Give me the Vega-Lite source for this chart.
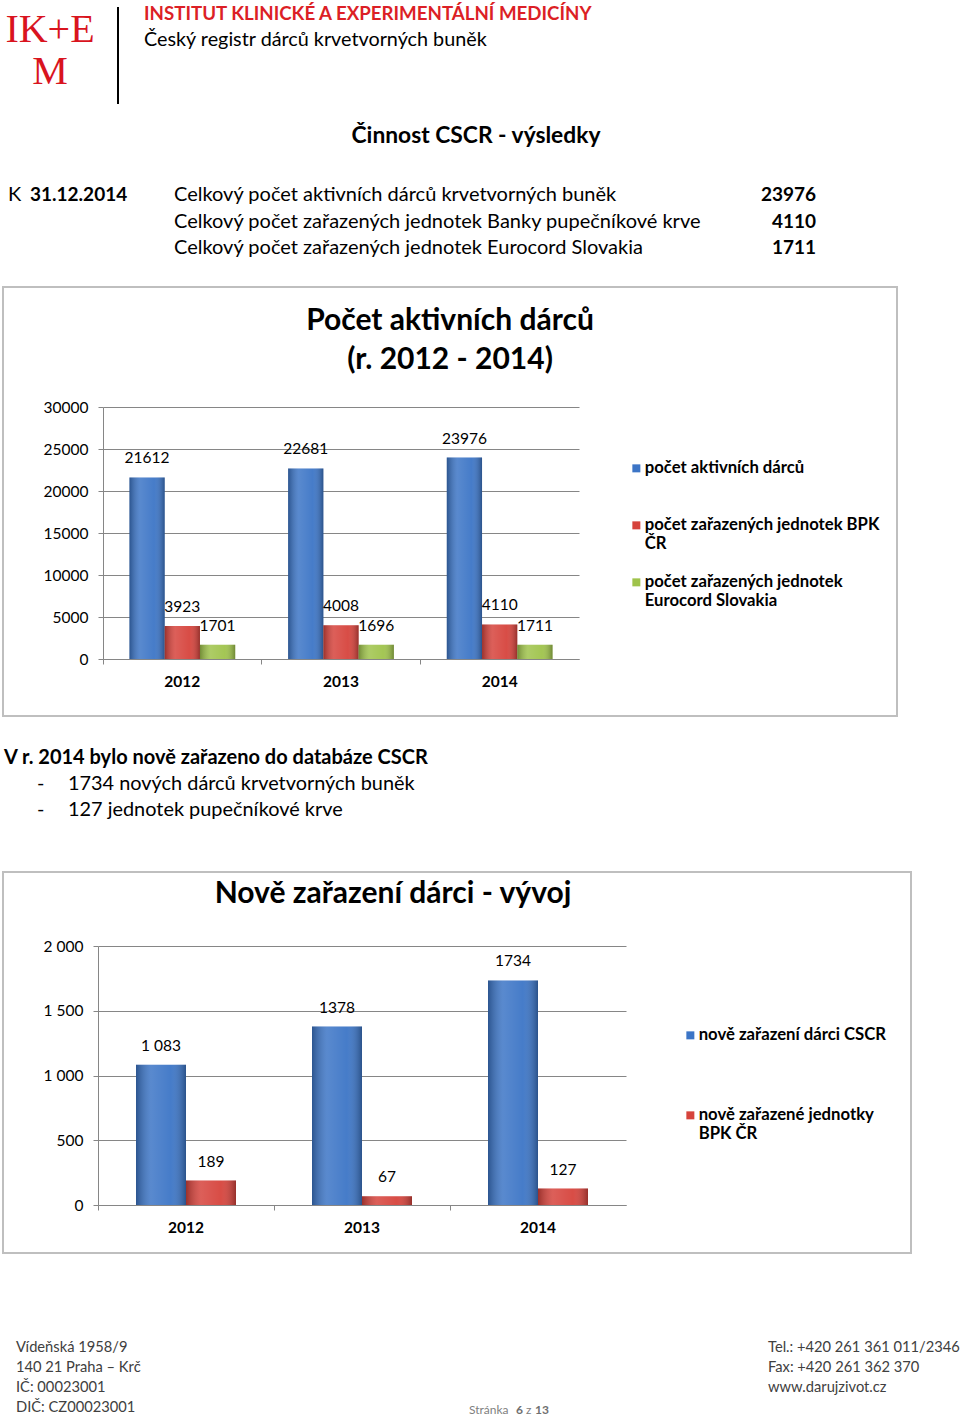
{
  "$schema": "https://vega.github.io/schema/vega-lite/v6.json",
  "background": "white",
  "padding": {"left": 2, "top": 5, "right": 0, "bottom": 0},
  "bounds": "flush",
  "spacing": 0,
  "resolve": {"scale": {"color": "independent", "xOffset": "independent"}, "legend": {"color": "independent"}},
  "config": {
    "view": {"stroke": null},
    "font": "Lato",
    "text": {"font": "Lato"},
    "axis": {"labelFont": "Lato", "titleFont": "Lato"},
    "legend": {"labelFont": "Lato"}
  },
  "vconcat": [
    {
      "width": 955,
      "height": 97,
      "resolve": {"scale": {"x": "independent", "y": "independent"}},
      "layer": [
        {
          "data": {"values": [{"pos": "logo", "line": 1, "text": ["IK+E", "M"]}]},
          "mark": {"type": "text", "font": "Liberation Serif", "fontSize": 40, "lineHeight": 42, "color": "#d9141e", "align": "center", "baseline": "alphabetic"},
          "encoding": {
            "x": {"field": "pos", "type": "nominal", "scale": {"type": "point", "range": [47, 47]}, "axis": null},
            "y": {"field": "line", "type": "ordinal", "scale": {"type": "point", "range": [35, 35]}, "axis": null},
            "text": {"field": "text"}
          }
        },
        {
          "data": {"values": [{"pos": "separator"}]},
          "mark": {"type": "rule", "color": "#000000", "strokeWidth": 2},
          "encoding": {
            "x": {"field": "pos", "type": "nominal", "scale": {"type": "point", "range": [115, 115]}, "axis": null}
          }
        },
        {
          "data": {"values": [{"pos": "header", "line": 1, "text": "INSTITUT KLINICKÉ A EXPERIMENTÁLNÍ MEDICÍNY"}]},
          "mark": {"type": "text", "fontSize": 18.7, "fontWeight": "bold", "color": "#dc1f26", "align": "left", "baseline": "middle"},
          "encoding": {
            "x": {"field": "pos", "type": "nominal", "scale": {"type": "point", "range": [141, 141]}, "axis": null},
            "y": {"field": "line", "type": "ordinal", "scale": {"type": "point", "range": [7, 7]}, "axis": null},
            "text": {"field": "text"}
          }
        },
        {
          "data": {"values": [{"pos": "header", "line": 2, "text": "Český registr dárců krvetvorných buněk"}]},
          "mark": {"type": "text", "fontSize": 19.8, "color": "#000000", "align": "left", "baseline": "middle"},
          "encoding": {
            "x": {"field": "pos", "type": "nominal", "scale": {"type": "point", "range": [141, 141]}, "axis": null},
            "y": {"field": "line", "type": "ordinal", "scale": {"type": "point", "range": [33, 33]}, "axis": null},
            "text": {"field": "text"}
          }
        }
      ]
    },
    {
      "width": 955,
      "height": 183,
      "resolve": {"scale": {"x": "independent", "y": "independent"}},
      "layer": [
        {
          "data": {"values": [{"pos": "title", "line": 1, "text": "Činnost  CSCR - výsledky"}]},
          "mark": {"type": "text", "fontSize": 22.8, "fontWeight": "bold", "color": "#000000", "align": "center", "baseline": "middle"},
          "encoding": {
            "x": {"field": "pos", "type": "nominal", "scale": {"type": "point", "range": [473, 473]}, "axis": null},
            "y": {"field": "line", "type": "ordinal", "scale": {"type": "point", "range": [32, 32]}, "axis": null},
            "text": {"field": "text"}
          }
        },
        {
          "data": {"values": [
            {"pos": "prefix", "line": 1, "text": "K"},
            {"pos": "label", "line": 1, "text": "Celkový počet aktivních dárců krvetvorných buněk"},
            {"pos": "label", "line": 2, "text": "Celkový počet zařazených jednotek Banky pupečníkové krve"},
            {"pos": "label", "line": 3, "text": "Celkový počet zařazených jednotek Eurocord Slovakia"}
          ]},
          "mark": {"type": "text", "fontSize": 20, "color": "#000000", "align": "left", "baseline": "middle"},
          "encoding": {
            "x": {"field": "pos", "type": "nominal", "scale": {"type": "point", "domain": ["prefix", "label"], "range": [5, 171], "padding": 0}, "axis": null},
            "y": {"field": "line", "type": "ordinal", "scale": {"type": "point", "domain": [1, 2, 3], "range": [91, 144], "padding": 0}, "axis": null},
            "text": {"field": "text"}
          }
        },
        {
          "data": {"values": [{"pos": "date", "line": 1, "text": "31.12.2014"}]},
          "mark": {"type": "text", "fontSize": 19, "fontWeight": "bold", "color": "#000000", "align": "left", "baseline": "middle"},
          "encoding": {
            "x": {"field": "pos", "type": "nominal", "scale": {"type": "point", "range": [27, 27]}, "axis": null},
            "y": {"field": "line", "type": "ordinal", "scale": {"type": "point", "range": [91, 91]}, "axis": null},
            "text": {"field": "text"}
          }
        },
        {
          "data": {"values": [
            {"pos": "value", "line": 1, "value": 23976},
            {"pos": "value", "line": 2, "value": 4110},
            {"pos": "value", "line": 3, "value": 1711}
          ]},
          "mark": {"type": "text", "fontSize": 19, "fontWeight": "bold", "color": "#000000", "align": "right", "baseline": "middle"},
          "encoding": {
            "x": {"field": "pos", "type": "nominal", "scale": {"type": "point", "range": [813, 813]}, "axis": null},
            "y": {"field": "line", "type": "ordinal", "scale": {"type": "point", "domain": [1, 2, 3], "range": [91, 144], "padding": 0}, "axis": null},
            "text": {"field": "value", "type": "quantitative", "format": "d"}
          }
        }
      ]
    },
    {
      "width": 894,
      "height": 429,
      "view": {"stroke": "#bfbfbf", "strokeWidth": 2},
      "title": {"text": ["Počet aktivních dárců", "(r. 2012 - 2014)"], "font": "Lato", "fontSize": 30, "fontWeight": "bold", "color": "#000000", "anchor": "middle", "frame": "group", "baseline": "top", "offset": -88, "lineHeight": 39},
      "data": {"values": [
        {"year": "2012", "series": "počet aktivních dárců", "value": 21612},
        {"year": "2012", "series": "počet zařazených jednotek BPK ČR", "value": 3923},
        {"year": "2012", "series": "počet zařazených jednotek Eurocord Slovakia", "value": 1701},
        {"year": "2013", "series": "počet aktivních dárců", "value": 22681},
        {"year": "2013", "series": "počet zařazených jednotek BPK ČR", "value": 4008},
        {"year": "2013", "series": "počet zařazených jednotek Eurocord Slovakia", "value": 1696},
        {"year": "2014", "series": "počet aktivních dárců", "value": 23976},
        {"year": "2014", "series": "počet zařazených jednotek BPK ČR", "value": 4110},
        {"year": "2014", "series": "počet zařazených jednotek Eurocord Slovakia", "value": 1711}
      ]},
      "encoding": {
        "y": {
          "field": "value", "type": "quantitative",
          "scale": {"domain": [0, 30000], "range": [372, 120], "nice": false, "zero": true},
          "axis": {"orient": "left", "offset": -100, "values": [0, 5000, 10000, 15000, 20000, 25000, 30000], "format": "d", "title": null, "domainColor": "#868686", "domainWidth": 1, "tickColor": "#868686", "tickSize": 5, "labelFontSize": 15.5, "labelColor": "#000000", "labelPadding": 10, "grid": true, "gridColor": "#868686", "gridWidth": 1}
        }
      },
      "resolve": {"axis": {"x": "independent"}},
      "layer": [
        {
          "mark": {"type": "bar"},
          "encoding": {
            "x": {"field": "year", "type": "nominal", "scale": {"range": [100, 576], "paddingInner": 0, "paddingOuter": 0},
              "axis": {"orient": "bottom", "offset": -57, "labelAngle": 0, "labelFontSize": 15.5, "labelFontWeight": "bold", "labelColor": "#000000", "labelPadding": 15, "ticks": false, "domainColor": "#868686", "title": null, "grid": false}},
            "xOffset": {"field": "series", "type": "nominal", "scale": {"domain": ["počet aktivních dárců", "počet zařazených jednotek BPK ČR", "počet zařazených jednotek Eurocord Slovakia"], "paddingInner": 0, "paddingOuter": 0.75}},
            "color": {
              "field": "series", "type": "nominal",
              "scale": {
                "domain": ["počet aktivních dárců", "počet zařazených jednotek BPK ČR", "počet zařazených jednotek Eurocord Slovakia"],
                "range": ["#3c75c6", "#d6433c", "#9fc34b"]
              },
              "legend": {
                "orient": "none", "legendX": 625, "legendY": 173, "title": null,
                "symbolType": "square", "symbolSize": 64, "symbolStrokeWidth": 0,
                "labelFontSize": 16.7, "labelFontWeight": "bold", "labelColor": "#000000", "labelLimit": 400, "labelOffset": 0,
                "rowPadding": 21,
                "labelExpr": "datum.label == 'počet aktivních dárců' ? ['počet aktivních dárců', ''] : datum.label == 'počet zařazených jednotek BPK ČR' ? ['počet zařazených jednotek BPK', 'ČR'] : ['počet zařazených jednotek', 'Eurocord Slovakia']"
              }
            }
          }
        },
        {
          "mark": {"type": "bar", "fill": {"gradient": "linear", "x1": 0, "y1": 0, "x2": 1, "y2": 0, "stops": [{"offset": 0, "color": "rgba(0,0,0,0.28)"}, {"offset": 0.3, "color": "rgba(255,255,255,0.15)"}, {"offset": 0.7, "color": "rgba(255,255,255,0.05)"}, {"offset": 1, "color": "rgba(0,0,0,0.3)"}]}},
          "encoding": {
            "x": {"field": "year", "type": "nominal", "scale": {"range": [100, 576], "paddingInner": 0, "paddingOuter": 0}, "axis": null},
            "xOffset": {"field": "series", "type": "nominal", "scale": {"domain": ["počet aktivních dárců", "počet zařazených jednotek BPK ČR", "počet zařazených jednotek Eurocord Slovakia"], "paddingInner": 0, "paddingOuter": 0.75}}
          }
        },
        {
          "mark": {"type": "text", "dy": -19, "fontSize": 15.5, "color": "#000000"},
          "encoding": {
            "x": {"field": "year", "type": "nominal", "scale": {"range": [100, 576], "paddingInner": 0, "paddingOuter": 0},
              "axis": {"orient": "bottom", "offset": -57, "labels": false, "domain": false, "ticks": true, "tickSize": 5, "tickColor": "#868686", "bandPosition": 0, "grid": false, "title": null}},
            "xOffset": {"field": "series", "type": "nominal", "scale": {"domain": ["počet aktivních dárců", "počet zařazených jednotek BPK ČR", "počet zařazených jednotek Eurocord Slovakia"], "paddingInner": 0, "paddingOuter": 0.75}},
            "text": {"field": "value", "type": "quantitative", "format": "d"}
          }
        }
      ]
    },
    {
      "width": 955,
      "height": 156,
      "resolve": {"scale": {"x": "independent", "y": "independent"}},
      "layer": [
        {
          "data": {"values": [{"pos": "heading", "line": 1, "text": "V r.  2014  bylo nově zařazeno do databáze CSCR"}]},
          "mark": {"type": "text", "fontSize": 20, "fontWeight": "bold", "color": "#000000", "align": "left", "baseline": "middle"},
          "encoding": {
            "x": {"field": "pos", "type": "nominal", "scale": {"type": "point", "range": [1, 1]}, "axis": null},
            "y": {"field": "line", "type": "ordinal", "scale": {"type": "point", "range": [42, 42]}, "axis": null},
            "text": {"field": "text"}
          }
        },
        {
          "data": {"values": [
            {"pos": "dash", "line": 1, "text": "-"},
            {"pos": "item", "line": 1, "text": "1734 nových dárců krvetvorných buněk"},
            {"pos": "dash", "line": 2, "text": "-"},
            {"pos": "item", "line": 2, "text": "127 jednotek pupečníkové krve"}
          ]},
          "mark": {"type": "text", "fontSize": 19.9, "color": "#000000", "align": "left", "baseline": "middle"},
          "encoding": {
            "x": {"field": "pos", "type": "nominal", "scale": {"type": "point", "domain": ["dash", "item"], "range": [34, 65], "padding": 0}, "axis": null},
            "y": {"field": "line", "type": "ordinal", "scale": {"type": "point", "domain": [1, 2], "range": [68, 94], "padding": 0}, "axis": null},
            "text": {"field": "text"}
          }
        }
      ]
    },
    {
      "width": 908,
      "height": 381,
      "view": {"stroke": "#bfbfbf", "strokeWidth": 2},
      "title": {"text": "Nově zařazení dárci - vývoj", "font": "Lato", "fontSize": 30, "fontWeight": "bold", "color": "#000000", "anchor": "middle", "frame": "group", "baseline": "top", "offset": -37, "dx": -64},
      "data": {"values": [
        {"year": "2012", "series": "nově zařazení dárci  CSCR", "value": 1083, "label": "1 083"},
        {"year": "2012", "series": "nově zařazené jednotky BPK ČR", "value": 189, "label": "189"},
        {"year": "2013", "series": "nově zařazení dárci  CSCR", "value": 1378, "label": "1378"},
        {"year": "2013", "series": "nově zařazené jednotky BPK ČR", "value": 67, "label": "67"},
        {"year": "2014", "series": "nově zařazení dárci  CSCR", "value": 1734, "label": "1734"},
        {"year": "2014", "series": "nově zařazené jednotky BPK ČR", "value": 127, "label": "127"}
      ]},
      "encoding": {
        "y": {
          "field": "value", "type": "quantitative",
          "scale": {"domain": [0, 2000], "range": [333, 74], "nice": false, "zero": true},
          "axis": {"orient": "left", "offset": -95, "values": [0, 500, 1000, 1500, 2000], "labelExpr": "replace(format(datum.value, ','), ',', ' ')", "title": null, "domainColor": "#868686", "domainWidth": 1, "tickColor": "#868686", "tickSize": 5, "labelFontSize": 15.5, "labelColor": "#000000", "labelPadding": 10, "grid": true, "gridColor": "#868686", "gridWidth": 1}
        }
      },
      "resolve": {"axis": {"x": "independent"}},
      "layer": [
        {
          "mark": {"type": "bar"},
          "encoding": {
            "x": {"field": "year", "type": "nominal", "scale": {"range": [95, 623], "paddingInner": 0, "paddingOuter": 0},
              "axis": {"orient": "bottom", "offset": -48, "labelAngle": 0, "labelFontSize": 15.5, "labelFontWeight": "bold", "labelColor": "#000000", "labelPadding": 15, "ticks": false, "domainColor": "#868686", "title": null, "grid": false}},
            "xOffset": {"field": "series", "type": "nominal", "scale": {"domain": ["nově zařazení dárci  CSCR", "nově zařazené jednotky BPK ČR"], "paddingInner": 0, "paddingOuter": 0.76}},
            "color": {
              "field": "series", "type": "nominal",
              "scale": {
                "domain": ["nově zařazení dárci  CSCR", "nově zařazené jednotky BPK ČR"],
                "range": ["#3c75c6", "#d6433c"]
              },
              "legend": {
                "orient": "none", "legendX": 679, "legendY": 155, "title": null,
                "symbolType": "square", "symbolSize": 64, "symbolStrokeWidth": 0,
                "labelFontSize": 16.7, "labelFontWeight": "bold", "labelColor": "#000000", "labelLimit": 400, "labelOffset": 0,
                "rowPadding": 44,
                "labelExpr": "datum.label == 'nově zařazené jednotky BPK ČR' ? ['nově zařazené jednotky', 'BPK ČR'] : [datum.label, '']"
              }
            }
          }
        },
        {
          "mark": {"type": "bar", "fill": {"gradient": "linear", "x1": 0, "y1": 0, "x2": 1, "y2": 0, "stops": [{"offset": 0, "color": "rgba(0,0,0,0.28)"}, {"offset": 0.3, "color": "rgba(255,255,255,0.15)"}, {"offset": 0.7, "color": "rgba(255,255,255,0.05)"}, {"offset": 1, "color": "rgba(0,0,0,0.3)"}]}},
          "encoding": {
            "x": {"field": "year", "type": "nominal", "scale": {"range": [95, 623], "paddingInner": 0, "paddingOuter": 0}, "axis": null},
            "xOffset": {"field": "series", "type": "nominal", "scale": {"domain": ["nově zařazení dárci  CSCR", "nově zařazené jednotky BPK ČR"], "paddingInner": 0, "paddingOuter": 0.76}}
          }
        },
        {
          "mark": {"type": "text", "dy": -19, "fontSize": 15.5, "color": "#000000"},
          "encoding": {
            "x": {"field": "year", "type": "nominal", "scale": {"range": [95, 623], "paddingInner": 0, "paddingOuter": 0},
              "axis": {"orient": "bottom", "offset": -48, "labels": false, "domain": false, "ticks": true, "tickSize": 5, "tickColor": "#868686", "bandPosition": 0, "grid": false, "title": null}},
            "xOffset": {"field": "series", "type": "nominal", "scale": {"domain": ["nově zařazení dárci  CSCR", "nově zařazené jednotky BPK ČR"], "paddingInner": 0, "paddingOuter": 0.76}},
            "text": {"field": "label"}
          }
        }
      ]
    },
    {
      "width": 955,
      "height": 166,
      "resolve": {"scale": {"x": "independent", "y": "independent"}},
      "layer": [
        {
          "data": {"values": [
            {"pos": "left", "line": 1, "text": "Vídeňská 1958/9"},
            {"pos": "left", "line": 2, "text": "140 21 Praha – Krč"},
            {"pos": "left", "line": 3, "text": "IČ: 00023001"},
            {"pos": "left", "line": 4, "text": "DIČ: CZ00023001"},
            {"pos": "right", "line": 1, "text": "Tel.: +420 261 361 011/2346"},
            {"pos": "right", "line": 2, "text": "Fax: +420 261 362 370"},
            {"pos": "right", "line": 3, "text": "www.darujzivot.cz"}
          ]},
          "mark": {"type": "text", "fontSize": 14.7, "color": "#404040", "align": "left", "baseline": "middle"},
          "encoding": {
            "x": {"field": "pos", "type": "nominal", "scale": {"type": "point", "domain": ["left", "right"], "range": [13, 765], "padding": 0}, "axis": null},
            "y": {"field": "line", "type": "ordinal", "scale": {"type": "point", "domain": [1, 2, 3, 4], "range": [95, 155], "padding": 0}, "axis": null},
            "text": {"field": "text"}
          }
        },
        {
          "data": {"values": [{"pos": "word", "line": 1, "text": "Stránka"}, {"pos": "of", "line": 1, "text": "z"}]},
          "mark": {"type": "text", "fontSize": 12, "color": "#808080", "align": "left", "baseline": "middle"},
          "encoding": {
            "x": {"field": "pos", "type": "nominal", "scale": {"type": "point", "domain": ["word", "of"], "range": [466, 523], "padding": 0}, "axis": null},
            "y": {"field": "line", "type": "ordinal", "scale": {"type": "point", "range": [157, 157]}, "axis": null},
            "text": {"field": "text"}
          }
        },
        {
          "data": {"values": [{"pos": "page", "line": 1, "text": "6"}, {"pos": "total", "line": 1, "text": "13"}]},
          "mark": {"type": "text", "fontSize": 12, "fontWeight": "bold", "color": "#707070", "align": "left", "baseline": "middle"},
          "encoding": {
            "x": {"field": "pos", "type": "nominal", "scale": {"type": "point", "domain": ["page", "total"], "range": [513, 532], "padding": 0}, "axis": null},
            "y": {"field": "line", "type": "ordinal", "scale": {"type": "point", "range": [157, 157]}, "axis": null},
            "text": {"field": "text"}
          }
        }
      ]
    }
  ]
}
